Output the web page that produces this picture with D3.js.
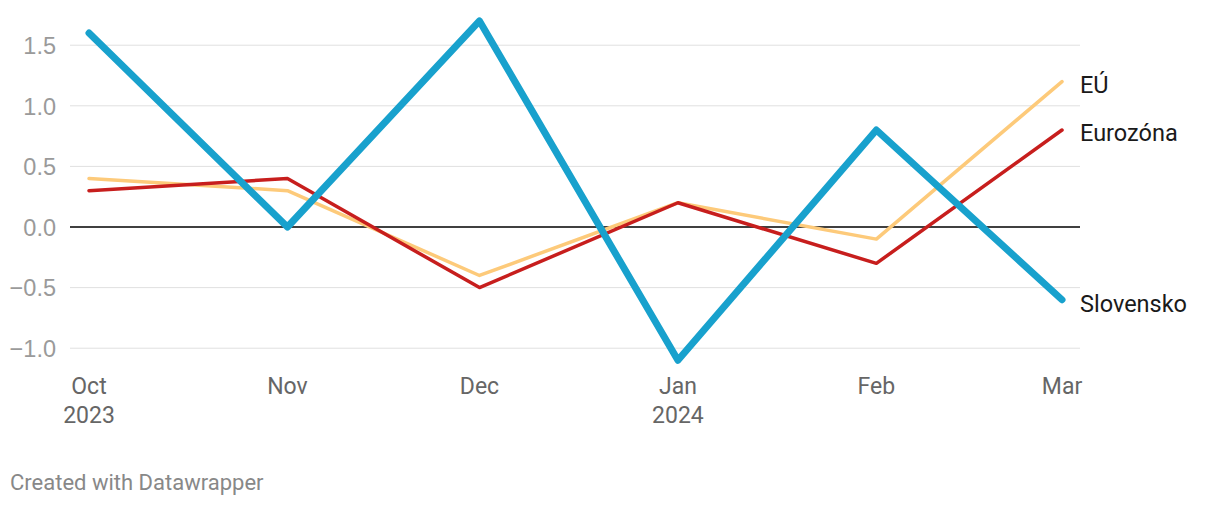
<!DOCTYPE html>
<html><head><meta charset="utf-8">
<script src="https://cdn.jsdelivr.net/npm/d3@7"></script>
<style>
html,body{margin:0;padding:0;background:#fff;}
svg{display:block;font-family:Roboto,"Noto Sans",sans-serif;}
</style></head>
<body><svg id="c" width="1220" height="506"></svg>
<script>
const months = ["2023-10-01","2023-11-01","2023-12-01","2024-01-01","2024-02-01","2024-03-01"];
const monthLabels = ["Oct","Nov","Dec","Jan","Feb","Mar"];
const yearLabels = ["2023","","","2024","",""];
const eu = [0.4, 0.3, -0.4, 0.2, -0.1, 1.2];
const eurozona = [0.3, 0.4, -0.5, 0.2, -0.3, 0.8];
const slovensko = [1.6, 0.0, 1.7, -1.1, 0.8, -0.6];
const yTicks = [-1.0, -0.5, 0.0, 0.5, 1.0, 1.5];
const seriesNames = ["EÚ","Eurozóna","Slovensko"];
const seriesValues = [eu, eurozona, slovensko];
const colors = ["#fdca7a","#c71e1d","#18a1cd"];
const widths = [3.5, 3.5, 7];

const svg = d3.select("#c");
const parse = d3.timeParse("%Y-%m-%d");
const dates = months.map(parse);
const x = d3.scaleTime().domain([dates[0], dates[dates.length-1]]).range([89, 1062]);
const y = d3.scaleLinear().domain([-1, 1.5]).range([348.2, 45.2]);

// gridlines
const grid = svg.append("g");
yTicks.forEach(t => {
  grid.append("line").attr("x1",70).attr("x2",1080).attr("y1",y(t)).attr("y2",y(t))
    .attr("stroke", t===0 ? "#000" : "#e0e0e0").attr("stroke-width", t===0 ? 1.5 : 1);
});
// y labels
const yAxis = d3.axisLeft(y).tickValues(yTicks).tickSize(0).tickFormat(d => d3.format(".1f")(d).replace("-","−"));
const ya = svg.append("g").attr("transform","translate(56,0)").call(yAxis);
ya.select(".domain").remove();
ya.selectAll("text").attr("fill","#9a9a9a").style("font-size","23.5px").attr("dx",0).attr("dy","0.35em").attr("x",0);

// x labels
const xa = svg.append("g");
dates.forEach((d,i) => {
  xa.append("text").attr("x", x(d)).attr("y", 394).attr("text-anchor","middle")
    .attr("fill","#666").style("font-size","23px").text(monthLabels[i]);
  if (yearLabels[i]) xa.append("text").attr("x", x(d)).attr("y", 423).attr("text-anchor","middle")
    .attr("fill","#666").style("font-size","23px").text(yearLabels[i]);
});

// lines
const line = d3.line().x((v,i) => x(dates[i])).y(v => y(v));
seriesValues.forEach((vals, k) => {
  svg.append("path").attr("d", line(vals)).attr("fill","none")
    .attr("stroke", colors[k]).attr("stroke-width", widths[k])
    .attr("stroke-linecap","round").attr("stroke-linejoin","round");
});

// labels at right
const labelOffsets = [3, 3, 4];
seriesValues.forEach((vals, k) => {
  svg.append("text").attr("x", 1080).attr("y", y(vals[vals.length-1]) + labelOffsets[k]).attr("dy","0.35em")
    .attr("fill","#1a1a1a").style("font-size","23.5px").text(seriesNames[k]);
});

// footer
svg.append("text").attr("x",10).attr("y",490).attr("fill","#888").style("font-size","22px").text("Created with Datawrapper");
</script></body></html>
